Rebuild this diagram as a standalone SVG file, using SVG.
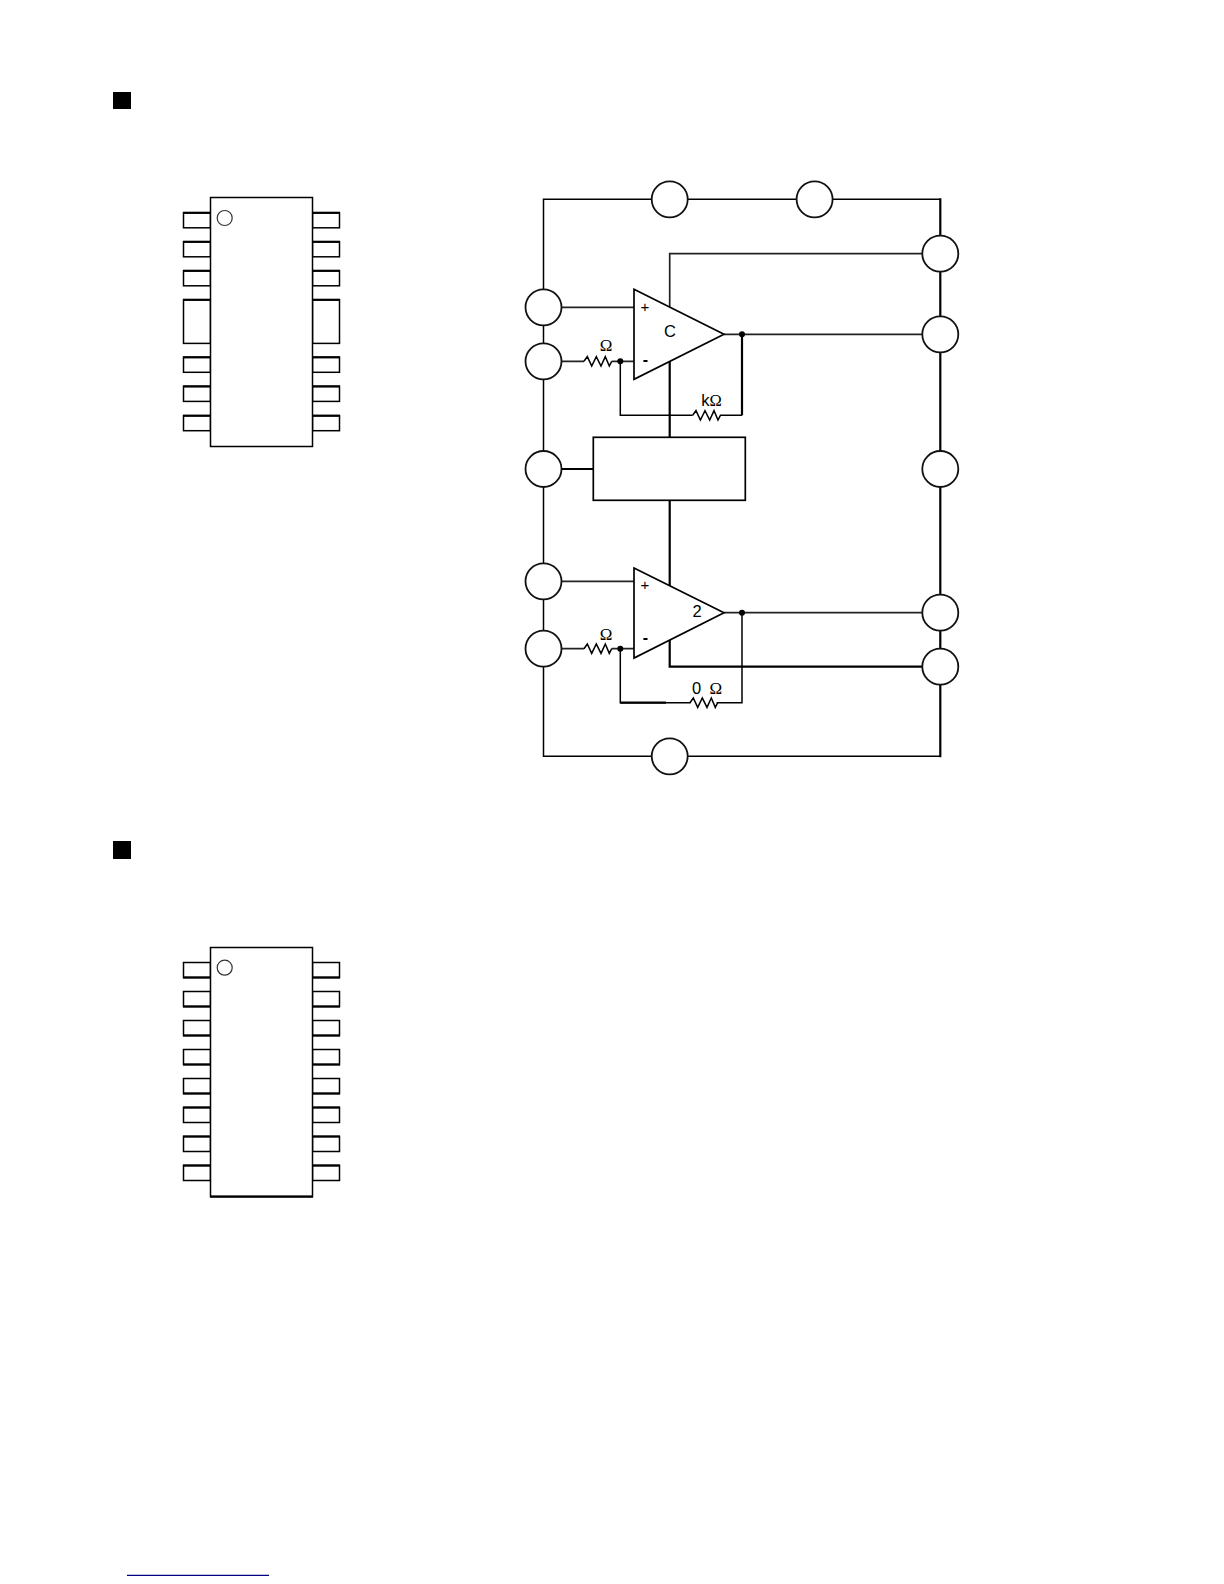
<svg xmlns="http://www.w3.org/2000/svg" width="1224" height="1584" viewBox="0 0 1224 1584">
<style>
.w{fill:none;stroke:#000;stroke-width:1.5}
.a{fill:none;stroke:#222;stroke-width:1.7}
.t{fill:none;stroke:#000;stroke-width:2.2}
.n{fill:#fff;stroke:#000;stroke-width:1.7}
.c{fill:#fff;stroke:#111;stroke-width:1.8}
.p{fill:#fff;stroke:#000;stroke-width:1.5}
.o{fill:#fff;stroke:#333;stroke-width:1.2}
.d{fill:#000}
.l{font-family:"Liberation Sans",Arial,sans-serif;font-size:16.5px;fill:#000;text-anchor:middle}
.s{font-family:"Liberation Sans",Arial,sans-serif;font-size:15px;fill:#000;text-anchor:middle}
.b{font-family:"Liberation Sans",Arial,sans-serif;font-size:16px;font-weight:bold;fill:#000;text-anchor:middle}
.g{font-family:"Liberation Serif","Times New Roman",serif;font-size:17px;fill:#000;text-anchor:middle}
</style>
<defs>
<g id="pinLT"><rect x="183.5" y="0" width="27" height="15" class="p"/><path d="M183 0H210.5" class="t"/></g>
<g id="pinRT"><rect x="312.5" y="0" width="27" height="15" class="p"/><path d="M312.5 0H340" class="t"/></g>
<g id="pinLB"><rect x="183.5" y="0" width="27" height="15" class="p"/><path d="M183 15H210.5" class="t"/></g>
<g id="pinRB"><rect x="312.5" y="0" width="27" height="15" class="p"/><path d="M312.5 15H340" class="t"/></g>
<path id="res" d="M0 0L3.3-4.7 7.7 4.7 12.3-4.7 17 4.7 21.3-4.7 25.3 4.7 27.7 0" class="w"/>
</defs>
<rect x="0" y="0" width="1224" height="1584" fill="#fff"/>
<rect id="bullet1" x="113" y="92" width="18" height="17" fill="#000"/>
<rect id="bullet2" x="113" y="841" width="18" height="18" fill="#000"/>
<g id="ic1">
<use href="#pinLT" y="212.8"/><use href="#pinLT" y="241.8"/><use href="#pinLT" y="270.8"/>
<rect x="183.5" y="299.8" width="27" height="43.6" class="p"/><path d="M183 299.8H210.5" class="t"/>
<use href="#pinLT" y="357.3"/><use href="#pinLT" y="386.4"/><use href="#pinLT" y="415.7"/>
<use href="#pinRT" y="212.8"/><use href="#pinRT" y="241.8"/><use href="#pinRT" y="270.8"/>
<rect x="312.5" y="299.8" width="27" height="43.6" class="p"/><path d="M312.5 299.8H340" class="t"/>
<use href="#pinRT" y="357.3"/><use href="#pinRT" y="386.4"/><use href="#pinRT" y="415.7"/>
<rect x="210.5" y="197.5" width="102" height="249" class="p"/>
<circle cx="224.7" cy="218" r="7.5" class="o"/>
</g>
<g id="ic2">
<use href="#pinLB" y="962.5"/><use href="#pinLB" y="991.5"/><use href="#pinLB" y="1020.5"/><use href="#pinLB" y="1049.5"/><use href="#pinLB" y="1078.5"/><use href="#pinLT" y="1107.5"/><use href="#pinLT" y="1136.5"/><use href="#pinLT" y="1165.5"/>
<use href="#pinRB" y="962.5"/><use href="#pinRB" y="991.5"/><use href="#pinRB" y="1020.5"/><use href="#pinRB" y="1049.5"/><use href="#pinRB" y="1078.5"/><use href="#pinRT" y="1107.5"/><use href="#pinRT" y="1136.5"/><use href="#pinRT" y="1165.5"/>
<rect x="210.5" y="947.5" width="102" height="249" class="p"/>
<path d="M210 1196.7H313" class="t"/>
<circle cx="224.7" cy="967.7" r="7.5" class="o"/>
</g>
<g id="connectors">
<path d="M940.3 199.3H543.5V756.3H940.3" class="w"/>
<path d="M940.3 198.3V757.3" class="t"/>
<path d="M669.7 310V253.7H940.3" class="a"/>
<path d="M669.7 361V437.3M669.7 500V590M669.7 636V666.7H940.3" class="t"/>
<path d="M543.5 307.3H634M543.5 581.3H634" class="a"/>
<path d="M543.5 361.3H584M611.7 361.3H634M543.5 648.7H584M611.7 648.7H634" class="a"/>
<path d="M724 334.3H940.3M724 612.7H940.3" class="a"/>
<path d="M620.3 361.3V415.3H692.7M720 415.3H742" class="w"/>
<path d="M742 334.3V415.3" class="t"/>
<path d="M620.3 648.7V702.7H690.7M716.7 702.7H742V612.7" class="w"/>
<path d="M620.3 702.7H666" class="t"/>
<path d="M543.5 469H593.3" class="t"/>
<use href="#res" x="584" y="361.3"/>
<use href="#res" x="584" y="648.7"/>
<use href="#res" x="692.7" y="415.3"/>
<use href="#res" x="690" y="702.7"/>
<circle cx="620.3" cy="361.3" r="3" class="d"/>
<circle cx="620.3" cy="648.7" r="3" class="d"/>
</g>
<g id="amp1">
<path d="M634 289.3L724 334.3 634 379.3Z" class="n"/>
<text x="645" y="312" class="s">+</text>
<text x="645.5" y="365" class="b">-</text>
<text x="670" y="337" class="l">C</text>
</g>
<g id="amp2">
<path d="M634 568L724 612.7 634 658Z" class="n"/>
<text x="645" y="590" class="s">+</text>
<text x="645.5" y="643" class="b">-</text>
<text x="697" y="617" class="l">2</text>
</g>
<g id="block"><rect x="593.3" y="437.3" width="152" height="63" class="n"/></g>
<g id="junctions">
<circle cx="742" cy="334.3" r="3" class="d"/>
<circle cx="742" cy="612.7" r="3" class="d"/>
</g>
<g id="labels">
<text x="606" y="351" class="g">Ω</text>
<text x="606" y="639.5" class="g">Ω</text>
<text x="711.5" y="405.5" class="l">k<tspan font-family="'Liberation Serif',serif">Ω</tspan></text>
<text x="696.7" y="693.5" class="l">0</text>
<text x="715.7" y="693.5" class="g">Ω</text>
</g>
<g id="t1"><circle cx="669.7" cy="199.3" r="18" class="c"/></g>
<g id="t2"><circle cx="814.6" cy="199.3" r="18" class="c"/></g>
<g id="t3"><circle cx="543.5" cy="307.3" r="18" class="c"/></g>
<g id="t4"><circle cx="543.5" cy="361.3" r="18" class="c"/></g>
<g id="t5"><circle cx="543.5" cy="469" r="18" class="c"/></g>
<g id="t6"><circle cx="543.5" cy="581.3" r="18" class="c"/></g>
<g id="t7"><circle cx="543.5" cy="648.7" r="18" class="c"/></g>
<g id="t8"><circle cx="669.7" cy="756.3" r="18" class="c"/></g>
<g id="t9"><circle cx="940.3" cy="253.7" r="18" class="c"/></g>
<g id="t10"><circle cx="940.3" cy="334.3" r="18" class="c"/></g>
<g id="t11"><circle cx="940.3" cy="469" r="18" class="c"/></g>
<g id="t12"><circle cx="940.3" cy="612.7" r="18" class="c"/></g>
<g id="t13"><circle cx="940.3" cy="666.7" r="18" class="c"/></g>
<path id="rule" d="M127 1575.3H269" fill="none" stroke="#000080" stroke-width="1.2"/>
</svg>
